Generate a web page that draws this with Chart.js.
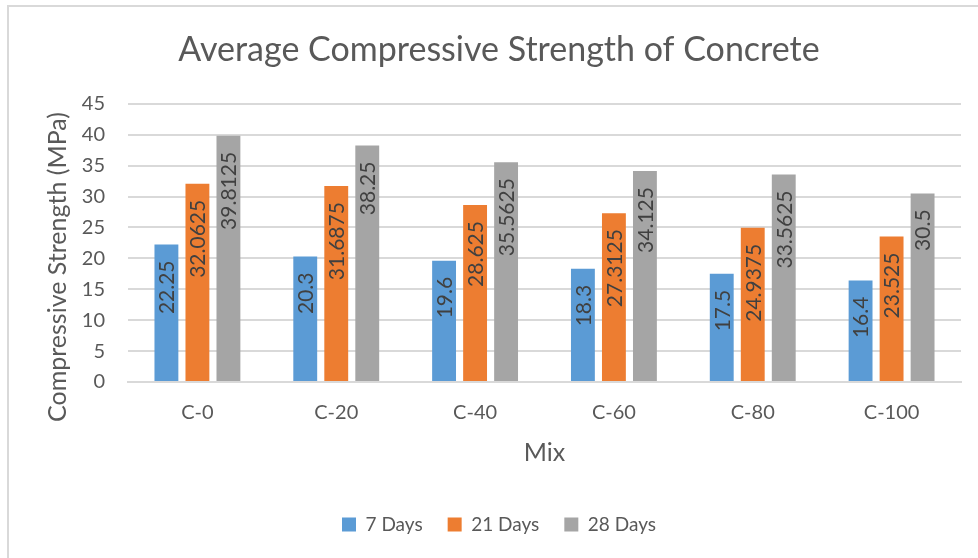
<!DOCTYPE html>
<html>
<head>
<meta charset="utf-8">
<script src="https://cdn.jsdelivr.net/npm/chart.js@4.4.1/dist/chart.umd.min.js"></script>
<style>
  html, body { margin: 0; padding: 0; background: #ffffff; }
  #wrap { position: relative; width: 978px; height: 558px; }
  canvas { display: block; }
</style>
</head>
<body>
<div id="wrap"><canvas id="c" width="978" height="558"></canvas></div>
<script>
const titleText = "Average Compressive Strength of Concrete";
const yTitle = "Compressive Strength (MPa)";
const xTitle = "Mix";
const categories = ["C-0", "C-20", "C-40", "C-60", "C-80", "C-100"];
const seriesNames = ["7 Days", "21 Days", "28 Days"];
const days7 = [22.25, 20.3, 19.6, 18.3, 17.5, 16.4];
const days21 = [32.0625, 31.6875, 28.625, 27.3125, 24.9375, 23.525];
const days28 = [39.8125, 38.25, 35.5625, 34.125, 33.5625, 30.5];
const colors = ["#5B9BD5", "#ED7D31", "#A5A5A5"];

const FONT = "Lato, 'Open Sans', sans-serif";
const TEXT = "#595959";
const GRID = "#D9D9D9";

const framePlugin = {
  id: "frame",
  beforeDraw(chart) {
    const ctx = chart.ctx;
    ctx.save();
    ctx.fillStyle = "#ffffff";
    ctx.fillRect(0, 0, chart.width, chart.height);
    ctx.fillStyle = GRID;
    ctx.fillRect(7, 5, chart.width - 7, 2);
    ctx.fillRect(7, 5, 2, chart.height - 5);
    ctx.restore();
  }
};

const yTitlePlugin = {
  id: "ytitle",
  afterDraw(chart) {
    const ctx = chart.ctx;
    ctx.save();
    ctx.translate(58, 267);
    ctx.rotate(-Math.PI / 2);
    ctx.font = "25px " + FONT;
    ctx.fillStyle = TEXT;
    ctx.textAlign = "center";
    ctx.textBaseline = "middle";
    ctx.fillText(yTitle, 0, 0);
    ctx.restore();
  }
};

const labelPlugin = {
  id: "barlabels",
  afterDatasetsDraw(chart) {
    const ctx = chart.ctx;
    ctx.save();
    ctx.font = "21px " + FONT;
    ctx.fillStyle = "#404040";
    ctx.textAlign = "right";
    ctx.textBaseline = "middle";
    chart.data.datasets.forEach((ds, di) => {
      const meta = chart.getDatasetMeta(di);
      meta.data.forEach((bar, i) => {
        ctx.save();
        ctx.translate(bar.x, bar.y + 16);
        ctx.rotate(-Math.PI / 2);
        ctx.fillText(String(ds.data[i]), 0, 1);
        ctx.restore();
      });
    });
    ctx.restore();
  }
};

const seriesData = [days7, days21, days28];

new Chart(document.getElementById("c"), {
  type: "bar",
  data: {
    labels: categories,
    datasets: seriesNames.map((n, i) => ({
      label: n,
      data: seriesData[i],
      backgroundColor: colors[i],
      borderWidth: 0,
      categoryPercentage: 0.67,
      barPercentage: 0.77
    }))
  },
  options: {
    responsive: false,
    animation: false,
    devicePixelRatio: 1,
    layout: { padding: { left: 37, right: 17, top: 0, bottom: 14 } },
    plugins: {
      title: {
        display: true,
        text: titleText,
        color: TEXT,
        font: { family: FONT, size: 34, weight: "normal" },
        padding: { top: 30, bottom: 33 }
      },
      legend: {
        position: "bottom",
        labels: {
          color: TEXT,
          font: { family: FONT, size: 19 },
          boxWidth: 14,
          boxHeight: 14,
          padding: 25
        }
      },
      tooltip: { enabled: false }
    },
    scales: {
      x: {
        grid: { display: false, drawTicks: false },
        border: { display: true, color: GRID, width: 2 },
        ticks: { color: TEXT, font: { family: FONT, size: 20 }, padding: 19 },
        title: {
          display: true,
          text: xTitle,
          color: TEXT,
          font: { family: FONT, size: 25 },
          padding: { top: 0, bottom: 22 }
        },
        afterFit(scale) { scale.height = 108; }
      },
      y: {
        min: 0,
        max: 45,
        ticks: { stepSize: 5, color: TEXT, font: { family: FONT, size: 20 }, padding: 23 },
        grid: { color: GRID, lineWidth: 2, drawTicks: false },
        border: { display: false },
        afterFit(scale) { scale.width = 91; }
      }
    }
  },
  plugins: [framePlugin, labelPlugin, yTitlePlugin]
});
</script>
</body>
</html>
